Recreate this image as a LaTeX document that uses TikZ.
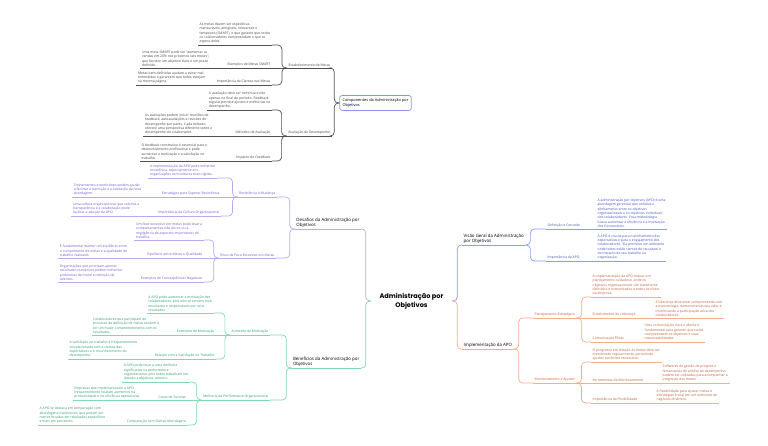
\documentclass[tikz,border=0pt]{standalone}
\usepackage{fontspec}
\setmainfont{Open Sans}
\newfontfamily\titlefont{Poppins}
\usetikzlibrary{positioning}
\definecolor{compline}{RGB}{80,80,80}
\definecolor{comptext}{RGB}{70,70,70}
\definecolor{boxline}{RGB}{135,150,245}
\definecolor{desline}{RGB}{190,168,246}
\definecolor{destext}{RGB}{120,90,195}
\definecolor{benline}{RGB}{125,218,178}
\definecolor{bentext}{RGB}{50,155,112}
\definecolor{visline}{RGB}{140,155,245}
\definecolor{vistext}{RGB}{70,85,185}
\definecolor{impline}{RGB}{250,172,142}
\definecolor{imptext}{RGB}{185,98,60}

\begin{document}
\begin{tikzpicture}[x=1pt, y=-1pt,
  every node/.style={inner xsep=1.5pt, inner ysep=1.3pt},
  root/.style={font=\titlefont\bfseries\fontsize{6.6}{8.6}\selectfont, align=center, minimum width=81pt, inner sep=0pt},
  head/.style={font=\fontsize{4.4}{5.4}\selectfont, align=left, text=black},
  lab/.style={font=\fontsize{3.4}{4.3}\selectfont, align=left},
  lside/.style={anchor=south east},
  rside/.style={anchor=south west},
  ul/.style={append after command={(\tikzlastnode.south west) edge[draw=#1, line width=0.7pt] (\tikzlastnode.south east)}},
  lbr/.style={rounded corners=4pt, to path={-- ++(-5,0) |- (\tikztotarget)}},
  rbr/.style={rounded corners=4pt, to path={-- ++(5,0) |- (\tikztotarget)}},
  compbox/.style={draw=boxline, rounded corners=2.5pt, line width=0.7pt, font=\fontsize{3.9}{4.9}\selectfont, align=left, text=black, inner xsep=3pt, inner ysep=2.5pt, minimum width=67pt, minimum height=15pt},
  compnode/.style={lab, text=comptext, ul=compline},
  desnode/.style={lab, text=destext, ul=desline},
  bennode/.style={lab, text=bentext, ul=benline},
  visnode/.style={lab, text=vistext, ul=visline},
  impnode/.style={lab, text=imptext, ul=impline},
  compwire/.style={draw=compline, line width=0.7pt},
  deswire/.style={draw=desline, line width=0.7pt},
  benwire/.style={draw=benline, line width=0.7pt},
  viswire/.style={draw=visline, line width=0.7pt},
  impwire/.style={draw=impline, line width=0.7pt}]
\fill[white] (0,0) rectangle (768,446);
\useasboundingbox (0,0) rectangle (768,446);

\node[root] (root) at (411.5,301) {Administração por\\Objetivos};

% Componentes
\node[compbox] (comp) at (375.5,103) {Componentes da Administração por\\Objetivos};
\node[compnode, lside] (est) at (332,68) {Estabelecimento de Metas};
\node[compnode, lside] (est_txt) at (272,45) {As metas devem ser específicas,\\mensuráveis, atingíveis, relevantes e\\temporais (SMART), o que garante que todos\\os colaboradores compreendam o que se\\espera deles.};
\node[compnode, lside] (est_ex) at (272,68) {Exemplos de Metas SMART};
\node[compnode, lside] (est_ex_txt) at (211,68) {Uma meta SMART pode ser “aumentar as\\vendas em 20\% nos próximos seis meses”,\\que fornece um objetivo claro e um prazo\\definido.};
\node[compnode, lside] (est_cla) at (272,85) {Importância da Clareza nas Metas};
\node[compnode, lside] (est_cla_txt) at (207,85) {Metas bem definidas ajudam a evitar mal-\\entendidos e garantem que todos estejam\\na mesma página.};
\node[compnode, lside] (aval) at (332,136) {Avaliação de Desempenho};
\node[compnode, lside] (aval_txt) at (272,110) {A avaliação deve ser contínua e não\\apenas no final do período. Feedback\\regular permite ajustes e melhorias no\\desempenho.};
\node[compnode, lside] (aval_met) at (272,136) {Métodos de Avaliação};
\node[compnode, lside] (aval_met_txt) at (214,136) {As avaliações podem incluir reuniões de\\feedback, autoavaliações e revisões de\\desempenho por pares. Cada método\\oferece uma perspectiva diferente sobre o\\desempenho do colaborador.};
\node[compnode, lside] (aval_fb) at (272,161) {Impacto do Feedback};
\node[compnode, lside] (aval_fb_txt) at (209,161) {O feedback construtivo é essencial para o\\desenvolvimento profissional e pode\\aumentar a motivação e a satisfação no\\trabalho.};
\draw[compwire] (comp.west) to[lbr] (est.south east);
\draw[compwire] (comp.west) to[lbr] (aval.south east);
\draw[compwire] (est.south west) to[lbr] (est_txt.south east);
\draw[compwire] (est.south west) -- (est_ex.south east);
\draw[compwire] (est.south west) to[lbr] (est_cla.south east);
\draw[compwire] (est_ex.south west) -- (est_ex_txt.south east);
\draw[compwire] (est_cla.south west) -- (est_cla_txt.south east);
\draw[compwire] (aval.south west) to[lbr] (aval_txt.south east);
\draw[compwire] (aval.south west) -- (aval_met.south east);
\draw[compwire] (aval.south west) to[lbr] (aval_fb.south east);
\draw[compwire] (aval_met.south west) -- (aval_met_txt.south east);
\draw[compwire] (aval_fb.south west) -- (aval_fb_txt.south east);

% Desafios
\node[head, ul=desline, lside] (des) at (361,229) {Desafios da Administração por\\Objetivos};
\node[desnode, lside] (res) at (277,197) {Resistência à Mudança};
\node[desnode, lside] (res_txt) at (217,178) {A implementação da APO pode enfrentar\\resistência, especialmente em\\organizações com culturas mais rígidas.};
\node[desnode, lside] (res_est) at (221,197) {Estratégias para Superar Resistência};
\node[desnode, lside] (res_est_txt) at (143,197) {Treinamentos e workshops podem ajudar\\a facilitar a transição e a aceitação da nova\\abordagem.};
\node[desnode, lside] (res_cul) at (221,216) {Importância da Cultura Organizacional};
\node[desnode, lside] (res_cul_txt) at (141,216) {Uma cultura organizacional que valoriza a\\transparência e a colaboração pode\\facilitar a adoção da APO.};
\node[desnode, lside] (foco) at (276,258) {Risco de Foco Excessivo em Metas};
\node[desnode, lside] (foco_txt) at (204,240) {Um foco excessivo em metas pode levar a\\comportamentos não éticos ou à\\negligência de aspectos importantes do\\trabalho.};
\node[desnode, lside] (foco_eq) at (204,258) {Equilíbrio entre Metas e Qualidade};
\node[desnode, lside] (foco_eq_txt) at (129,258) {É fundamental manter um equilíbrio entre\\o cumprimento de metas e a qualidade do\\trabalho realizado.};
\node[desnode, lside] (foco_neg) at (204,282) {Exemplos de Consequências Negativas};
\node[desnode, lside] (foco_neg_txt) at (124,282) {Organizações que priorizam apenas\\resultados numéricos podem enfrentar\\problemas de moral e retenção de\\talentos.};
\draw[deswire] (root.west) to[lbr] (des.south east);
\draw[deswire] (des.south west) to[lbr] (res.south east);
\draw[deswire] (des.south west) to[lbr] (foco.south east);
\draw[deswire] (res.south west) to[lbr] (res_txt.south east);
\draw[deswire] (res.south west) -- (res_est.south east);
\draw[deswire] (res.south west) to[lbr] (res_cul.south east);
\draw[deswire] (res_est.south west) -- (res_est_txt.south east);
\draw[deswire] (res_cul.south west) -- (res_cul_txt.south east);
\draw[deswire] (foco.south west) to[lbr] (foco_txt.south east);
\draw[deswire] (foco.south west) -- (foco_eq.south east);
\draw[deswire] (foco.south west) to[lbr] (foco_neg.south east);
\draw[deswire] (foco_eq.south west) -- (foco_eq_txt.south east);
\draw[deswire] (foco_neg.south west) -- (foco_neg_txt.south east);

% Beneficios
\node[head, ul=benline, lside] (ben) at (361,368) {Benefícios da Administração por\\Objetivos};
\node[bennode, lside] (mot) at (270,335) {Aumento da Motivação};
\node[bennode, lside] (mot_txt) at (214,313) {A APO pode aumentar a motivação dos\\colaboradores, pois eles se sentem mais\\envolvidos e responsáveis por seus\\resultados.};
\node[bennode, lside] (mot_ex) at (216,335) {Exemplos de Motivação};
\node[bennode, lside] (mot_ex_txt) at (161,335) {Colaboradores que participam do\\processo de definição de metas tendem a\\ter um maior comprometimento com os\\resultados.};
\node[bennode, lside] (mot_sat) at (216,359) {Relação com a Satisfação no Trabalho};
\node[bennode, lside] (mot_sat_txt) at (139,359) {A satisfação no trabalho é frequentemente\\correlacionada com a clareza das\\expectativas e o reconhecimento do\\desempenho.};
\node[bennode, lside] (perf) at (270,400) {Melhoria da Performance Organizacional};
\node[bennode, lside] (perf_txt) at (190,382) {A APO pode levar a uma melhoria\\significativa na performance\\organizacional, pois todos trabalham em\\direção a objetivos comuns.};
\node[bennode, lside] (perf_cas) at (188,400) {Casos de Sucesso};
\node[bennode, lside] (perf_cas_txt) at (142,400) {Empresas que implementaram a APO\\frequentemente relatam aumentos na\\produtividade e na eficiência operacional.};
\node[bennode, lside] (perf_cmp) at (188,425) {Comparação com Outras Abordagens};
\node[bennode, lside] (perf_cmp_txt) at (107,425) {A APO se destaca em comparação com\\abordagens tradicionais, que podem ser\\menos focadas em resultados específicos\\e mais em processos.};
\draw[benwire] (root.west) to[lbr] (ben.south east);
\draw[benwire] (ben.south west) to[lbr] (mot.south east);
\draw[benwire] (ben.south west) to[lbr] (perf.south east);
\draw[benwire] (mot.south west) to[lbr] (mot_txt.south east);
\draw[benwire] (mot.south west) -- (mot_ex.south east);
\draw[benwire] (mot.south west) to[lbr] (mot_sat.south east);
\draw[benwire] (mot_ex.south west) -- (mot_ex_txt.south east);
\draw[benwire] (mot_sat.south west) -- (mot_sat_txt.south east);
\draw[benwire] (perf.south west) to[lbr] (perf_txt.south east);
\draw[benwire] (perf.south west) -- (perf_cas.south east);
\draw[benwire] (perf.south west) to[lbr] (perf_cmp.south east);
\draw[benwire] (perf_cas.south west) -- (perf_cas_txt.south east);
\draw[benwire] (perf_cmp.south west) -- (perf_cmp_txt.south east);

% Visao geral
\node[head, ul=visline, rside] (vis) at (462,245) {Visão Geral da Administração\\por Objetivos};
\node[visnode, rside] (def) at (546,229) {Definição e Conceito};
\node[visnode, rside] (def_txt) at (596,229) {A administração por objetivos (APO) é uma\\abordagem gerencial que enfatiza o\\alinhamento entre os objetivos\\organizacionais e os objetivos individuais\\dos colaboradores. Essa metodologia\\busca aumentar a eficiência e a motivação\\dos funcionários.};
\node[visnode, rside] (apo) at (546,261) {Importância da APO};
\node[visnode, rside] (apo_txt) at (596,261) {A APO é crucial para o alinhamento das\\expectativas e para o engajamento dos\\colaboradores. Ela promove um ambiente\\onde todos estão cientes de seu papel e\\do impacto de seu trabalho na\\organização.};
\draw[viswire] (root.east) to[rbr] (vis.south west);
\draw[viswire] (vis.south east) to[rbr] (def.south west);
\draw[viswire] (vis.south east) to[rbr] (apo.south west);
\draw[viswire] (def.south east) -- (def_txt.south west);
\draw[viswire] (apo.south east) -- (apo_txt.south west);

% Implementacao
\node[head, ul=impline, rside] (impl) at (462,349) {Implementação da APO};
\node[impnode, rside] (plan) at (533,318) {Planejamento Estratégico};
\node[impnode, rside] (plan_txt) at (591,297) {A implementação da APO requer um\\planejamento cuidadoso, onde os\\objetivos organizacionais são claramente\\definidos e comunicados a todos os níveis\\da empresa.};
\node[impnode, rside] (plan_lid) at (591,318) {Envolvimento da Liderança};
\node[impnode, rside] (plan_lid_txt) at (654,318) {A liderança deve estar comprometida com\\a metodologia, demonstrando seu valor e\\incentivando a participação ativa dos\\colaboradores.};
\node[impnode, rside] (plan_com) at (591,342) {Comunicação Eficaz};
\node[impnode, rside] (plan_com_txt) at (643,342) {Uma comunicação clara e aberta é\\fundamental para garantir que todos\\compreendam os objetivos e suas\\responsabilidades.};
\node[impnode, rside] (mon) at (533,383) {Monitoramento e Ajustes};
\node[impnode, rside] (mon_txt) at (591,362) {O progresso em direção às metas deve ser\\monitorado regularmente, permitindo\\ajustes conforme necessário.};
\node[impnode, rside] (mon_fer) at (591,383) {Ferramentas de Monitoramento};
\node[impnode, rside] (mon_fer_txt) at (661,383) {Softwares de gestão de projetos e\\ferramentas de análise de desempenho\\podem ser utilizados para acompanhar o\\progresso das metas.};
\node[impnode, rside] (mon_flex) at (591,403) {Importância da Flexibilidade};
\node[impnode, rside] (mon_flex_txt) at (655,403) {A flexibilidade para ajustar metas e\\estratégias é vital em um ambiente de\\negócios dinâmico.};
\draw[impwire] (root.east) to[rbr] (impl.south west);
\draw[impwire] (impl.south east) to[rbr] (plan.south west);
\draw[impwire] (impl.south east) to[rbr] (mon.south west);
\draw[impwire] (plan.south east) to[rbr] (plan_txt.south west);
\draw[impwire] (plan.south east) -- (plan_lid.south west);
\draw[impwire] (plan.south east) to[rbr] (plan_com.south west);
\draw[impwire] (plan_lid.south east) -- (plan_lid_txt.south west);
\draw[impwire] (plan_com.south east) -- (plan_com_txt.south west);
\draw[impwire] (mon.south east) to[rbr] (mon_txt.south west);
\draw[impwire] (mon.south east) -- (mon_fer.south west);
\draw[impwire] (mon.south east) to[rbr] (mon_flex.south west);
\draw[impwire] (mon_fer.south east) -- (mon_fer_txt.south west);
\draw[impwire] (mon_flex.south east) -- (mon_flex_txt.south west);
\end{tikzpicture}
\end{document}
